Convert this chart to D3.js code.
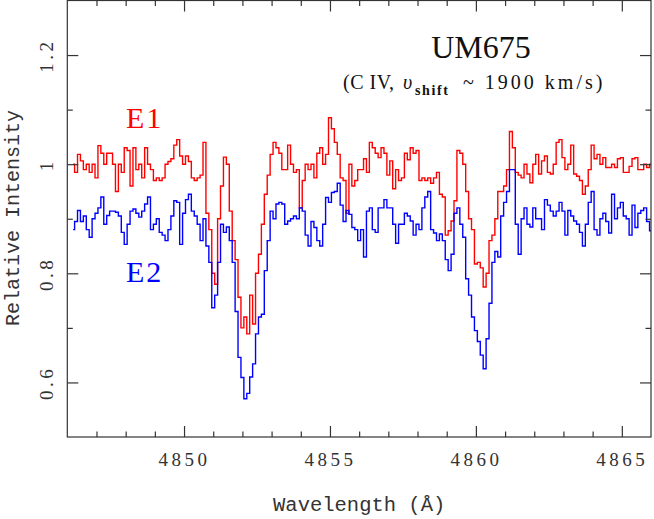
<!DOCTYPE html>
<html>
<head>
<meta charset="utf-8">
<script src="https://cdn.jsdelivr.net/npm/d3@7"></script>
<style>
    body { margin: 0; background: #fff; }
    svg { display: block; }
</style>
</head>
<body>
<svg id="chart" width="654" height="519"></svg>
<script>

// spectrum sampling: first wavelength and step (Angstrom)
var lambdaStart = 4846.2;
var lambdaStep = 0.1;

// E1 (red), one row per Angstrom
var fluxE1 = [
    1.0, 0.985, 1.018, 1.006, 0.99, 1.0, 0.985, 1.0,
    0.975, 1.034, 1.02, 1.0, 1.02, 1.02, 1.0, 0.95, 1.0, 0.985,
    1.03, 1.025, 0.96, 1.03, 0.99, 1.0, 0.975, 1.03, 1.0, 0.99,
    0.97, 0.975, 0.97, 0.975, 1.0, 1.005, 1.01, 1.035, 1.045, 1.015,
    1.0, 1.015, 1.005, 0.975, 0.97, 0.975, 0.98, 1.04, 0.91, 0.88,
    0.8, 0.78, 0.9, 0.96, 1.013, 1.0, 0.914, 0.86, 0.825, 0.756,
    0.7, 0.72, 0.689, 0.76, 0.707, 0.8, 0.835, 0.89, 0.945, 0.98,
    1.018, 1.04, 1.03, 1.02, 0.99, 0.99, 1.035, 1.0, 0.985, 0.99,
    0.92, 0.97, 1.0, 0.99, 1.0, 0.975, 1.02, 1.03, 1.0, 1.018,
    1.085, 1.065, 1.04, 1.018, 0.975, 0.97, 0.91, 1.0, 0.96, 0.97,
    0.99, 0.99, 1.01, 0.985, 1.04, 1.03, 1.02, 1.012, 1.03, 1.02,
    0.98, 1.006, 0.955, 0.99, 0.97, 0.975, 1.02, 1.008, 1.03, 1.02,
    1.025, 0.97, 0.975, 0.97, 0.975, 0.965, 0.975, 0.985, 0.945, 0.94,
    0.87, 0.878, 0.896, 0.933, 1.025, 1.02, 1.0, 0.95, 0.9, 0.88,
    0.817, 0.82, 0.81, 0.775, 0.8, 0.86, 0.87, 0.9, 0.95, 0.95,
    0.96, 0.99, 1.06, 1.03, 0.985, 0.98, 0.975, 1.0, 0.982, 0.966,
    1.0, 1.018, 0.982, 1.006, 1.015, 0.985, 0.982, 1.0, 1.04, 1.045,
    1.012, 0.99, 1.0, 1.035, 0.982, 0.978, 0.97, 0.945, 0.96, 0.99,
    1.035, 1.01, 1.018, 1.0, 1.012, 0.994, 0.994, 1.0, 0.994, 1.01,
    1.012, 0.985, 0.985, 0.996, 1.01, 1.012, 0.99, 0.99, 1.0, 0.994,
    1.0
];

// E2 (blue)
var fluxE2 = [
    0.88, 0.895, 0.915, 0.895, 0.905, 0.88, 0.866, 0.9,
    0.91, 0.92, 0.94, 0.89, 0.906, 0.914, 0.914, 0.912, 0.905, 0.875,
    0.853, 0.89, 0.914, 0.918, 0.91, 0.903, 0.914, 0.927, 0.94, 0.88,
    0.89, 0.9, 0.875, 0.87, 0.86, 0.88, 0.905, 0.933, 0.93, 0.853,
    0.91, 0.935, 0.945, 0.914, 0.905, 0.89, 0.86, 0.9, 0.85, 0.82,
    0.737, 0.76, 0.82, 0.89, 0.875, 0.885, 0.86, 0.82, 0.73, 0.646,
    0.609, 0.57, 0.58, 0.61, 0.634, 0.689, 0.72, 0.725, 0.805, 0.86,
    0.914, 0.9, 0.927, 0.93, 0.927, 0.89, 0.896, 0.9, 0.905, 0.9,
    0.92, 0.914, 0.87, 0.85, 0.895, 0.884, 0.86, 0.85, 0.89, 0.939,
    0.93, 0.948, 0.95, 0.965, 0.925, 0.895, 0.915, 0.908, 0.884, 0.88,
    0.86, 0.88, 0.83, 0.914, 0.92, 0.88, 0.875, 0.92, 0.92, 0.935,
    0.92, 0.92, 0.89, 0.855, 0.89, 0.89, 0.91, 0.905, 0.896, 0.87,
    0.89, 0.88, 0.92, 0.94, 0.95, 0.88, 0.874, 0.86, 0.872, 0.86,
    0.825, 0.805, 0.835, 0.91, 0.92, 0.89, 0.866, 0.79, 0.76, 0.72,
    0.695, 0.675, 0.65, 0.625, 0.68, 0.745, 0.82, 0.84, 0.83, 0.905,
    0.93, 0.95, 0.99, 0.99, 0.89, 0.835, 0.9, 0.92, 0.89, 0.885,
    0.92, 0.9, 0.9, 0.88, 0.935, 0.925, 0.914, 0.905, 0.914, 0.93,
    0.914, 0.87, 0.915, 0.905, 0.896, 0.89, 0.875, 0.85, 0.89, 0.93,
    0.95, 0.88, 0.87, 0.9, 0.91, 0.895, 0.874, 0.945, 0.9, 0.92,
    0.93, 0.905, 0.9, 0.87, 0.925, 0.884, 0.91, 0.915, 0.92, 0.895,
    0.878
];

var xDomain = [4846, 4866];
var yDomain = [0.5, 1.3];
var xTicksMajor = [4850, 4855, 4860, 4865];
var xTicksMinor = [4847, 4848, 4849, 4851, 4852, 4853, 4854, 4856, 4857, 4858, 4859, 4861, 4862, 4863, 4864];
var yTicksMajor = [0.6, 0.8, 1.0, 1.2];
var yTicksMinor = [0.7, 0.9, 1.1];

var series = [
    {name: 'E1', values: fluxE1, color: '#ff0000'},
    {name: 'E2', values: fluxE2, color: '#0000ff'}
];

var frame = {left: 67.3, right: 651, top: 0.5, bottom: 437};
var ink = '#333';

var svg = d3.select('#chart');

var x = d3.scaleLinear().domain(xDomain).range([frame.left, frame.right]);
var y = d3.scaleLinear().domain(yDomain).range([frame.bottom, frame.top]);

svg.append('defs').append('clipPath')
    .attr('id', 'plotclip')
    .append('rect')
    .attr('x', frame.left)
    .attr('y', frame.top)
    .attr('width', frame.right - frame.left)
    .attr('height', frame.bottom - frame.top);

//spectra as step lines
var line = d3.line()
    .x(function(d) { return x(d.w); })
    .y(function(d) { return y(d.f); })
    .curve(d3.curveStep);

svg.append('g')
    .attr('clip-path', 'url(#plotclip)')
    .selectAll('.spec')
    .data(series)
    .enter()
    .append('path')
    .attr('class', 'spec')
    .attr('fill', 'none')
    .attr('stroke', function(s) { return s.color; })
    .attr('stroke-width', 1.4)
    .attr('stroke-linejoin', 'miter')
    .attr('d', function(s) {
        return line(s.values.map(function(f, i) {
            return {w: lambdaStart + i * lambdaStep, f: f};
        }));
    });

//axes on all four sides, ticks pointing in
function styleAxis(g) {
    g.selectAll('path.domain').remove();
    g.selectAll('line').attr('stroke', ink).attr('stroke-width', 1.2);
    g.selectAll('text')
        .attr('fill', ink)
        .style('font-family', '"Liberation Serif", "DejaVu Serif", serif')
        .style('font-size', '19px')
        .style('letter-spacing', '3.5px');
}

function addAxis(axis, tx, ty) {
    return svg.append('g')
        .attr('transform', 'translate(' + tx + ',' + ty + ')')
        .call(axis)
        .call(styleAxis);
}

var fmtX = d3.format('d');
var fmtY = function(v) { return v === 1 ? '1' : d3.format('.1f')(v); };

addAxis(d3.axisBottom(x).tickValues(xTicksMajor).tickSize(-11).tickSizeOuter(0).tickPadding(15.5).tickFormat(fmtX), 0, frame.bottom);
addAxis(d3.axisBottom(x).tickValues(xTicksMinor).tickSize(-5.5).tickSizeOuter(0).tickFormat(''), 0, frame.bottom);
addAxis(d3.axisTop(x).tickValues(xTicksMajor).tickSize(-11).tickSizeOuter(0).tickFormat(''), 0, frame.top);
addAxis(d3.axisTop(x).tickValues(xTicksMinor).tickSize(-5.5).tickSizeOuter(0).tickFormat(''), 0, frame.top);

var yLeft = addAxis(d3.axisLeft(y).tickValues(yTicksMajor).tickSize(-11).tickSizeOuter(0).tickFormat(fmtY), frame.left, 0);
addAxis(d3.axisLeft(y).tickValues(yTicksMinor).tickSize(-5.5).tickSizeOuter(0).tickFormat(''), frame.left, 0);
addAxis(d3.axisRight(y).tickValues(yTicksMajor).tickSize(-11).tickSizeOuter(0).tickFormat(''), frame.right, 0);
addAxis(d3.axisRight(y).tickValues(yTicksMinor).tickSize(-5.5).tickSizeOuter(0).tickFormat(''), frame.right, 0);

// y labels are written upward
yLeft.selectAll('text')
    .attr('x', null)
    .attr('dy', null)
    .attr('text-anchor', 'middle')
    .attr('transform', 'translate(-14.5,0) rotate(-90)');

svg.append('rect')
    .attr('x', frame.left)
    .attr('y', frame.top)
    .attr('width', frame.right - frame.left)
    .attr('height', frame.bottom - frame.top)
    .attr('fill', 'none')
    .attr('stroke', ink)
    .attr('stroke-width', 1.2);

//axis titles
svg.append('text')
    .attr('x', (frame.left + frame.right) / 2)
    .attr('y', 511)
    .attr('text-anchor', 'middle')
    .attr('fill', ink)
    .style('font-family', '"Liberation Mono", monospace')
    .style('font-size', '20.5px')
    .text('Wavelength (Å)');

svg.append('text')
    .attr('transform', 'translate(19,218) rotate(-90)')
    .attr('text-anchor', 'middle')
    .attr('fill', ink)
    .style('font-family', '"Liberation Mono", monospace')
    .style('font-size', '20px')
    .text('Relative Intensity');

//series labels
svg.selectAll('.serlabel')
    .data([{t: 'E1', c: '#ff0000', y: 128}, {t: 'E2', c: '#0000ff', y: 282}])
    .enter()
    .append('text')
    .attr('class', 'serlabel')
    .attr('x', 126)
    .attr('y', function(d) { return d.y; })
    .attr('fill', function(d) { return d.c; })
    .style('font-family', '"Liberation Serif", serif')
    .style('font-size', '30px')
    .style('letter-spacing', '2px')
    .text(function(d) { return d.t; });

//title
svg.append('text')
    .attr('x', 481)
    .attr('y', 58)
    .attr('text-anchor', 'middle')
    .attr('fill', '#111')
    .style('font-family', '"Liberation Serif", serif')
    .style('font-size', '32px')
    .text('UM675');

var sub = svg.append('text')
    .attr('y', 89)
    .attr('fill', '#111')
    .style('font-family', '"Liberation Serif", serif')
    .style('font-size', '20px');

sub.append('tspan').attr('x', 343).style('letter-spacing', '0.5px').text('(C IV,');
sub.append('tspan').attr('x', 403).style('font-style', 'italic').text('υ');
sub.append('tspan').attr('x', 415).attr('dy', 6).style('font-weight', 'bold')
    .style('font-size', '14px').style('letter-spacing', '1.6px').text('shift');
sub.append('tspan').attr('x', 463).attr('dy', -6).style('letter-spacing', '3px').text('~ 1900 km/s)');

</script>
</body>
</html>
